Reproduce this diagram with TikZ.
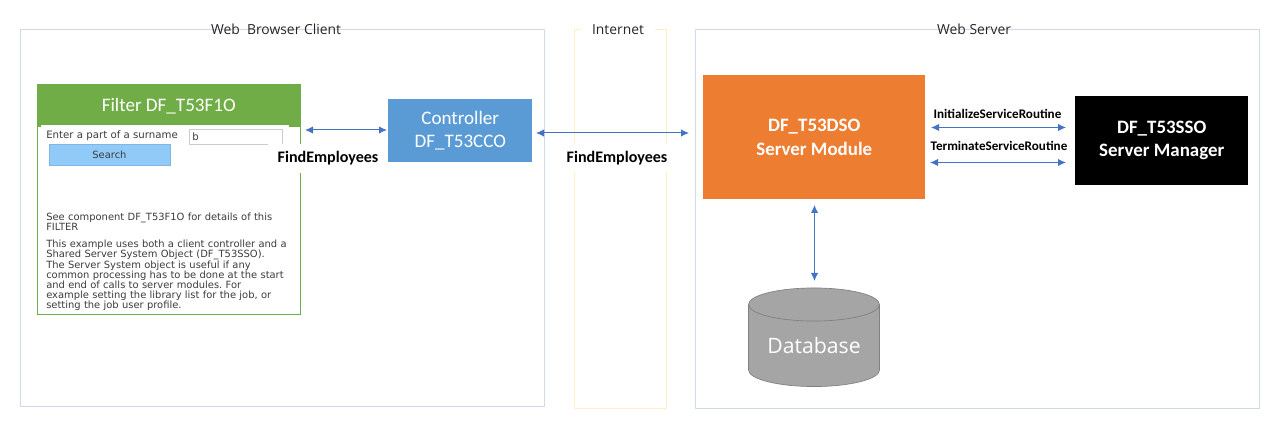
\documentclass[tikz,border=0pt]{standalone}
\usepackage{fontspec}
\setmainfont{Carlito}
\newfontfamily\webfont{DejaVu Sans}
\newfontfamily\titlefont{Open Sans}
\usetikzlibrary{arrows.meta}
\frenchspacing
\definecolor{zoneblue}{HTML}{D0DAE8}
\definecolor{zoneyellow}{HTML}{FFF0C8}
\definecolor{cgreen}{HTML}{70AD47}
\definecolor{cblue}{HTML}{5B9BD5}
\definecolor{corange}{HTML}{ED7D31}
\definecolor{cgrey}{HTML}{A5A5A5}
\definecolor{cline}{HTML}{4472C4}
\definecolor{webtext}{HTML}{3C3C3C}
\definecolor{btnblue}{HTML}{90CAF9}
\tikzset{
  x=0.75pt,y=-0.75pt,
  titletext/.style={font=\titlefont\fontsize{10.4}{12}\selectfont,text=black!85,inner sep=0pt},
  shapebox/.style={rectangle,inner sep=0pt,text=white,align=center},
  biglabel/.style={font=\fontsize{14.3}{17.4}\selectfont},
  boldlabel/.style={font=\bfseries\fontsize{14.2}{17.4}\selectfont},
  flowlabel/.style={font=\bfseries\fontsize{12.05}{14}\selectfont,text=black,inner sep=0pt},
  routelabel/.style={font=\bfseries\fontsize{9.85}{12}\selectfont,text=black,inner sep=0pt},
  link/.style={draw=cline,line width=0.75pt,{Latex[length=6pt,width=5.5pt]}-{Latex[length=6pt,width=5.5pt]}},
  webline/.style={font=\webfont\fontsize{7.45}{7.37}\selectfont,text=webtext,inner sep=0pt,anchor=north west,align=left,text width=200pt},
  websingle/.style={font=\webfont\fontsize{7.65}{8}\selectfont,text=webtext,inner sep=0pt,anchor=west}
}
\begin{document}
\begin{tikzpicture}
\useasboundingbox (0,0) rectangle (1280,434);
\fill[white] (0,0) rectangle (1280,434);
% zones
\draw[draw=zoneblue,line width=0.75pt] (20.5,29.5) rectangle (544.5,406);
\draw[draw=zoneyellow,line width=0.75pt] (574,29.5) rectangle (666,408);
\draw[draw=zoneblue,line width=0.75pt] (695.5,29.5) rectangle (1259.5,408);
\node[titletext,anchor=center] (tclient) at (276,29.5) {Web\ \ Browser Client};
\node[titletext,fill=white,minimum width=55.5pt,minimum height=12pt,anchor=center] (tnet) at (618,29.5) {Internet};
\node[titletext,anchor=center] (tserver) at (974,29.5) {Web Server};
% filter panel
\draw[cgreen,line width=0.9pt] (37.5,120) rectangle (300.5,314.5);
\node[shapebox,fill=cgreen,minimum width=198pt,minimum height=32.25pt,anchor=north west,biglabel] (filter) at (36.5,84) {Filter DF\_T53F1O};
\fill[white] (41,125) rectangle (289,180);
\node[websingle] (surname) at (46,136) {Enter a part of a surname};
\node[draw=black!20,line width=0.6pt,fill=white,minimum width=70pt,minimum height=11.5pt,inner sep=0pt,anchor=north west] (input) at (189,129) {};
\node[websingle] (inputval) at (192,137) {b};
\node[draw=btnblue!90!black,line width=0.4pt,fill=btnblue,minimum width=91pt,minimum height=15.5pt,inner sep=0pt,anchor=north west,font=\webfont\fontsize{7.45}{8}\selectfont,text=webtext] (search) at (48.5,144.5) {Search};
\node[webline] (para1) at (46,213) {See component DF\_T53F1O for details of this\\FILTER};
\node[webline] (para2) at (46,240) {This example uses both a client controller and a\\Shared Server System Object (DF\_T53SSO).\\The Server System object is useful if any\\common processing has to be done at the start\\and end of calls to server modules. For\\example setting the library list for the job, or\\setting the job user profile.};
% boxes
\node[shapebox,fill=cblue,minimum width=108pt,minimum height=47.25pt,anchor=north west,biglabel] (ctrl) at (388,99) {Controller\\DF\_T53CCO};
\node[shapebox,fill=corange,minimum width=166.5pt,minimum height=93pt,anchor=north west,boldlabel] (dso) at (703,75) {DF\_T53DSO\\Server Module};
\node[shapebox,fill=black,minimum width=129.75pt,minimum height=66.75pt,anchor=north west,boldlabel] (sso) at (1075,96) {DF\_T53SSO\\Server Manager};
% database cylinder
\draw[draw=black!50,line width=0.5pt,fill=cgrey] (748.5,304.5) arc[start angle=180,end angle=0,x radius=49.1pt,y radius=12.4pt] -- (879.5,370) arc[start angle=0,end angle=-180,x radius=49.1pt,y radius=12.4pt] -- cycle;
\draw[draw=black!50,line width=0.5pt] (748.5,304.5) arc[start angle=180,end angle=360,x radius=49.1pt,y radius=12.4pt];
\node[text=white,font=\titlefont\fontsize{15.9}{18}\selectfont,inner sep=0pt] (dbtext) at (814,345.5) {Database};
% label backgrounds and labels
\node[flowlabel,fill=white,minimum width=90pt,minimum height=21.75pt,anchor=center] (fe1) at (328,158.5) {FindEmployees};
\node[flowlabel,fill=white,minimum width=84pt,minimum height=21.75pt,anchor=center] (fe2) at (617,158) {FindEmployees};
\node[routelabel] (isr) at (997.5,114) {InitializeServiceRoutine};
\node[routelabel] (tsr) at (999,146) {TerminateServiceRoutine};
% connector ends
\coordinate (a1) at (305,130); \coordinate (a2) at (387,130);
\coordinate (b1) at (536,133); \coordinate (b2) at (689,133);
\coordinate (c1) at (931,127.5); \coordinate (c2) at (1066,127.5);
\coordinate (d1) at (930,162.5); \coordinate (d2) at (1066,162.5);
\coordinate (e1) at (814.5,205); \coordinate (e2) at (814.5,281);
\draw[link] (a1) -- (a2);
\draw[link] (b1) -- (b2);
\draw[link] (c1) -- (c2);
\draw[link] (d1) -- (d2);
\draw[link] (e1) -- (e2);
\end{tikzpicture}
\end{document}
